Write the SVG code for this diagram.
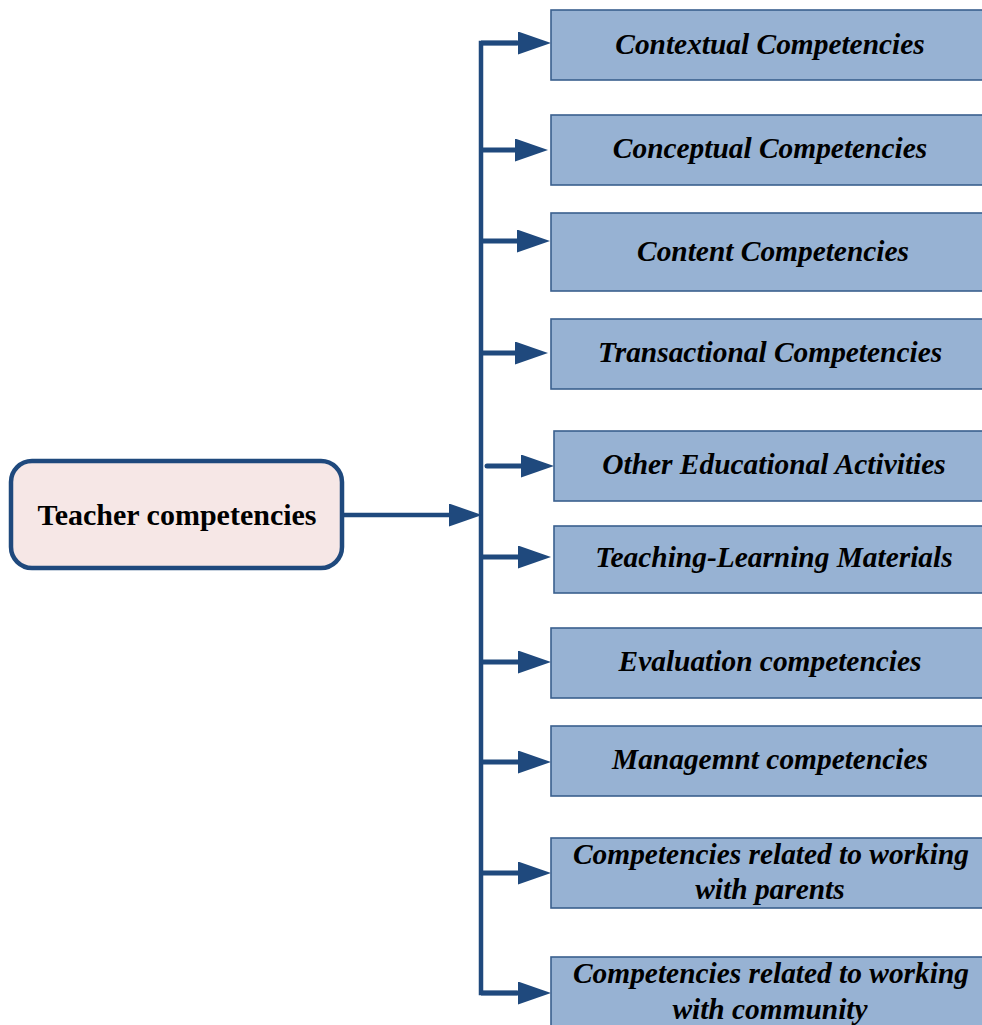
<svg xmlns="http://www.w3.org/2000/svg" width="982" height="1025" viewBox="0 0 982 1025">
<style>
.box{fill:#97B2D3;stroke:#3A5F8E;stroke-width:1.6}
.lbl{font-family:"Liberation Serif","Times New Roman",serif;font-size:29.4px;font-weight:bold;font-style:italic;fill:#000;text-anchor:middle}
.main{fill:#F6E7E6;stroke:#1F497D;stroke-width:4.5}
.mlbl{font-family:"Liberation Serif","Times New Roman",serif;font-size:30px;font-weight:bold;fill:#000;text-anchor:middle}
.con{fill:none;stroke:#1F497D;stroke-width:4.5}
.br{fill:none;stroke:#1F497D;stroke-width:5;marker-end:url(#ah)}
</style>
<defs>
<marker id="ah" markerUnits="userSpaceOnUse" viewBox="0 0 33 23" refX="0" refY="11.5" markerWidth="33" markerHeight="23" orient="auto">
<path d="M0,0 L33,11.5 L0,23 Z" fill="#1F497D"/>
</marker>
</defs>
<rect width="982" height="1025" fill="#fff"/>
<g id="connectors">
<path class="con" d="M517,43 H481 V993 H517"/>
<line class="con" x1="342" y1="515" x2="449" y2="515" style="marker-end:url(#ah)"/>
<line class="br" x1="481" y1="43" x2="518" y2="43"/>
<line class="br" x1="481" y1="150" x2="515" y2="150"/>
<line class="br" x1="481" y1="241" x2="517" y2="241"/>
<line class="br" x1="481" y1="353" x2="515" y2="353"/>
<line class="br" x1="487" y1="466" x2="521" y2="466" style="stroke-linecap:round"/>
<line class="br" x1="481" y1="557" x2="518" y2="557"/>
<line class="br" x1="481" y1="662" x2="518" y2="662"/>
<line class="br" x1="481" y1="762" x2="518" y2="762"/>
<line class="br" x1="481" y1="873" x2="518" y2="873"/>
<line class="br" x1="481" y1="993" x2="518" y2="993"/>
</g>
<g id="root">
<rect class="main" x="11" y="461" width="331" height="107" rx="21" ry="21"/>
<text class="mlbl" x="177" y="525">Teacher competencies</text>
</g>
<g id="n1"><rect class="box" x="551" y="10" width="440" height="70"/><text class="lbl" x="770" y="54">Contextual Competencies</text></g>
<g id="n2"><rect class="box" x="551" y="115" width="440" height="70"/><text class="lbl" x="770" y="158">Conceptual Competencies</text></g>
<g id="n3"><rect class="box" x="551" y="213" width="440" height="78"/><text class="lbl" x="773" y="261">Content Competencies</text></g>
<g id="n4"><rect class="box" x="551" y="319" width="440" height="70"/><text class="lbl" x="770" y="362">Transactional Competencies</text></g>
<g id="n5"><rect class="box" x="554" y="431" width="440" height="70"/><text class="lbl" x="774" y="474">Other Educational Activities</text></g>
<g id="n6"><rect class="box" x="554" y="526" width="440" height="67"/><text class="lbl" x="774" y="567">Teaching-Learning Materials</text></g>
<g id="n7"><rect class="box" x="551" y="628" width="440" height="70"/><text class="lbl" x="770" y="671">Evaluation competencies</text></g>
<g id="n8"><rect class="box" x="551" y="726" width="440" height="70"/><text class="lbl" x="770" y="769">Managemnt competencies</text></g>
<g id="n9"><rect class="box" x="551" y="838" width="440" height="70"/><text class="lbl" x="771" y="864">Competencies related to working</text><text class="lbl" x="770" y="899">with parents</text></g>
<g id="n10"><rect class="box" x="551" y="957" width="440" height="80"/><text class="lbl" x="771" y="983">Competencies related to working</text><text class="lbl" x="770" y="1019">with community</text></g>
</svg>
